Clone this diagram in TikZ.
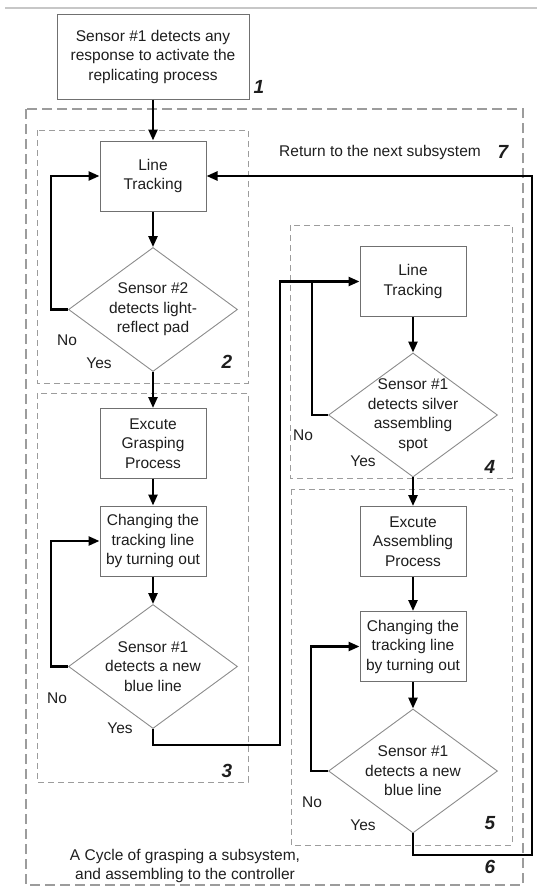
\documentclass[tikz,border=0pt]{standalone}
\usepackage{fontspec}
\setmainfont{Liberation Sans}
\usetikzlibrary{arrows.meta,positioning,shapes.geometric}
\definecolor{boxgray}{HTML}{707070}
\definecolor{decgray}{HTML}{8C8C8C}
\definecolor{dashgray}{HTML}{9C9C9C}
\definecolor{ink}{HTML}{1E1E1E}
\newcommand{\flowfont}{\fontsize{15.5}{19.5}\selectfont}
\newcommand{\numfont}{\fontsize{19}{19}\selectfont\bfseries\itshape}
\tikzset{
  >={Triangle[length=11pt,width=9pt]},
  % rutor
  proc/.style={rectangle,draw=boxgray,line width=1pt,fill=white,inner sep=1pt,
               minimum width=106pt,minimum height=70pt,align=center,
               font=\flowfont,text=ink},
  dec/.style={diamond,draw=decgray,line width=0.9pt,fill=white,inner sep=0pt,
              minimum width=169pt,minimum height=124pt},
  dtxt/.style={align=center,font=\flowfont,text=ink,inner sep=0pt},
  txt/.style={font=\flowfont,text=ink,inner sep=0pt},
  num/.style={font=\numfont,text=ink,inner sep=0pt},
  % linjer
  fl/.style={draw=black,line width=2.4pt},
  cyc/.style={draw=dashgray,line width=2pt,dash pattern=on 10pt off 5pt},
  grp/.style={draw=dashgray,line width=1pt,dash pattern=on 6pt off 4pt},
  topline/.style={draw=black!22,line width=2pt},
}
\begin{document}
\begin{tikzpicture}[x=1pt,y=-1pt]
  \useasboundingbox (0,0) rectangle (537,886);
  \draw[topline] (5,8) -- (537,8);
  % grupper
  \draw[cyc] (26,109) rectangle (523,885);
  \draw[grp] (37,130) rectangle (248,383);
  \draw[grp] (37,393) rectangle (248,782);
  \draw[grp] (290,225) rectangle (512,478);
  \draw[grp] (291,489) rectangle (512,845);
  % vänster
  \node[proc,minimum width=192pt,minimum height=85pt] (start) at (153,56.5)
    {Sensor \#1 detects any\\response to activate the\\replicating process};
  \node[proc] (lt1) at (153,176) {Line\\Tracking};
  \node[dec,label={[dtxt]center:Sensor \#2\\detects light-\\reflect pad}] (d1) at (153,309.5) {};
  \node[proc] (eg) at (153,443.5) {Excute\\Grasping\\Process};
  \node[proc] (ct1) at (153,541) {Changing the\\tracking line\\by turning out};
  \node[dec,label={[dtxt]center:Sensor \#1\\detects a new\\blue line}] (d2) at (153,666.5) {};
  % höger
  \node[proc] (lt2) at (413,281.5) {Line\\Tracking};
  \node[dec,label={[dtxt]center:Sensor \#1\\detects silver\\assembling\\spot}] (d3) at (413,415) {};
  \node[proc] (ea) at (413,541.5) {Excute\\Assembling\\Process};
  \node[proc] (ct2) at (413,646.5) {Changing the\\tracking line\\by turning out};
  \node[dec,label={[dtxt]center:Sensor \#1\\detects a new\\blue line}] (d4) at (413,771) {};
  \coordinate (j1) at (280,745);
  \coordinate (j2) at (532,855);
  \coordinate (j3) at (312,281.5);
  % texter
  \node[num] (n1) at (259,87) {1};
  \node[num] (n2) at (227,362) {2};
  \node[num] (n3) at (227,771) {3};
  \node[num] (n4) at (490,467) {4};
  \node[num] (n5) at (490,823) {5};
  \node[num] (n6) at (490,867) {6};
  \node[num] (n7) at (503,152) {7};
  \node[txt] (ret) at (380,152) {Return to the next subsystem};
  \node[txt] (no1) at (67,340) {No};
  \node[txt] (yes1) at (99,363) {Yes};
  \node[txt] (no2) at (57,698) {No};
  \node[txt] (yes2) at (120,728) {Yes};
  \node[txt] (no3) at (303,435) {No};
  \node[txt] (yes3) at (363,461) {Yes};
  \node[txt] (no4) at (312,802) {No};
  \node[txt] (yes4) at (363,825) {Yes};
  \node[txt,align=center] (cap) at (185,866)
    {A Cycle of grasping a subsystem,\\and assembling to the controller};
  % pilar
  \draw[fl,->] (start) -- (lt1);
  \draw[fl,->] (lt1) -- (d1);
  \draw[fl,->] (d1.west) -- ++(-17,0) |- (lt1.west);
  \draw[fl,->] (d1) -- (eg);
  \draw[fl,->] (eg) -- (ct1);
  \draw[fl,->] (ct1) -- (d2);
  \draw[fl,->] (d2.west) -- ++(-17,0) |- (ct1.west);
  \draw[fl,->] (d2.south) |- (j1) |- (lt2.west);
  \draw[fl] (d3.west) -| (j3);
  \draw[fl,->] (lt2) -- (d3);
  \draw[fl,->] (d3) -- (ea);
  \draw[fl,->] (ea) -- (ct2);
  \draw[fl,->] (ct2) -- (d4);
  \draw[fl,->] (d4.west) -- ++(-17,0) |- (ct2.west);
  \draw[fl,->] (d4.south) |- (j2) |- (lt1.east);
\end{tikzpicture}
\end{document}
